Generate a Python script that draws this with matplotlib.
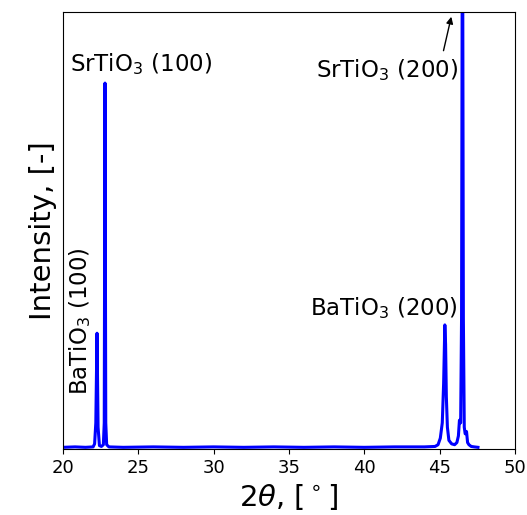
import numpy as np
import matplotlib
matplotlib.use('Agg')
import matplotlib.pyplot as plt

# XRD profile (2theta in degrees, normalised intensity)
two_theta = [20.0, 20.8, 21.5, 22.0, 22.1, 22.18, 22.26, 22.33, 22.42, 22.55,
             22.68, 22.74, 22.79, 22.84, 22.9, 23.05, 24.0, 26.0, 28.0, 30.0,
             32.0, 34.0, 36.0, 38.0, 40.0, 42.0, 44.0, 44.7, 44.9, 45.05,
             45.18, 45.27, 45.35, 45.4, 45.45, 45.52, 45.62, 45.8, 46.0, 46.15,
             46.25, 46.32, 46.4, 46.46, 46.52, 46.58, 46.64, 46.7, 46.79, 46.86,
             46.95, 47.1, 47.3, 47.55]
intensity = [0.004, 0.005, 0.004, 0.005, 0.012, 0.06, 0.265, 0.05, 0.008, 0.006,
             0.01, 0.06, 0.837, 0.06, 0.01, 0.005, 0.004, 0.005, 0.004, 0.005,
             0.004, 0.005, 0.004, 0.005, 0.004, 0.005, 0.005, 0.006, 0.01, 0.025,
             0.06, 0.15, 0.284, 0.24, 0.12, 0.05, 0.02, 0.012, 0.01, 0.015,
             0.03, 0.066, 0.06, 0.3, 1.4, 0.3, 0.05, 0.035, 0.04, 0.015,
             0.01, 0.006, 0.005, 0.004]

fig = plt.figure(figsize=(5.27, 5.15), dpi=100)
ax = fig.add_axes([0.1195, 0.128, 0.8575, 0.849])
ax.plot(two_theta, intensity, color='blue', lw=2.2)
ax.set_xlim(20, 50)
ax.set_ylim(0, 1.0)
ax.set_yticks([])
ax.tick_params(axis='x', labelsize=13)
ax.set_xlabel(r'2$\theta$, [$^\circ$]', fontsize=21)
ax.set_ylabel('Intensity, [-]', fontsize=21)

ax.text(20.46, 0.881, r'SrTiO$_3$ (100)', fontsize=16.5, ha='left', va='center')
ax.text(46.22, 0.867, r'SrTiO$_3$ (200)', fontsize=16.5, ha='right', va='center')
ax.text(46.22, 0.323, r'BaTiO$_3$ (200)', fontsize=16.5, ha='right', va='center')
ax.text(21.13, 0.293, r'BaTiO$_3$ (100)', fontsize=16.5, ha='center', va='center',
        rotation=90)
ax.annotate('', xy=(45.82, 0.995), xytext=(45.22, 0.905),
            arrowprops=dict(arrowstyle='-|>', color='black', lw=1))

fig.savefig('out.png', dpi=100)
